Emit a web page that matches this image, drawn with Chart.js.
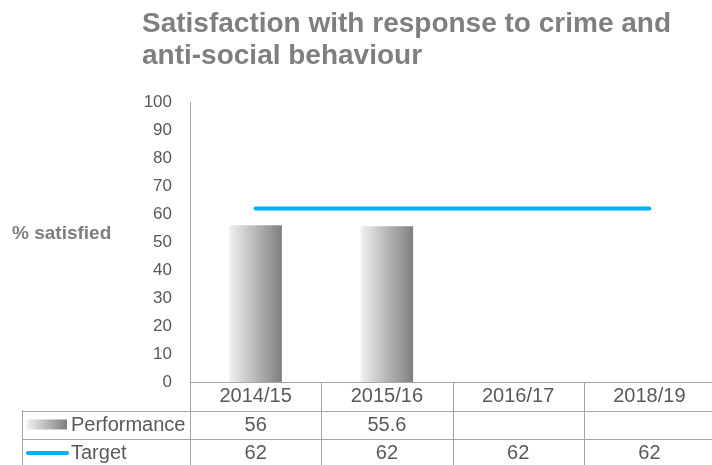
<!DOCTYPE html>
<html>
<head>
<meta charset="utf-8">
<script src="https://cdn.jsdelivr.net/npm/chart.js@4"></script>
<style>
  html, body { margin: 0; padding: 0; background: #fff; overflow: hidden; }
  #wrap { position: relative; width: 715px; height: 465px; }
</style>
</head>
<body>
<div id="wrap"><canvas id="chart"></canvas></div>
<script>
const years = ['2014/15', '2015/16', '2016/17', '2018/19'];
const performance = [56, 55.6, null, null];
const target = [62, 62, 62, 62];
const yTicks = [0, 10, 20, 30, 40, 50, 60, 70, 80, 90, 100];

const titleLines = ['Satisfaction with response to crime and', 'anti-social behaviour'];
const yLabel = '% satisfied';

const GREY_TEXT = '#595959';
const GREY_TITLE = '#7f7f7f';
const GRID = '#a6a6a6';
const BLUE = '#00b0f0';
const FONT = '"Liberation Sans", Arial, sans-serif';

// silver bar fill, light on the left going darker to the right
function barFill(ctx, x0, x1) {
  let g = ctx.createLinearGradient(x0, 0, x1, 0);
  g.addColorStop(0, '#f0f0f0');
  g.addColorStop(1, '#7f7f7f');
  return g;
}

// title, side label and the data table under the plot
const tablePlugin = {
  id: 'dataTable',
  afterDraw(chart) {
    const ctx = chart.ctx;
    const x = chart.scales.x;
    const area = chart.chartArea;
    const W = chart.width, H = chart.height;
    const top = area.bottom;
    const row1 = top + 28.5, row2 = top + 57;
    const leftEdge = 22;

    ctx.save();
    ctx.fillStyle = GREY_TITLE;
    ctx.font = 'bold 28px ' + FONT;
    ctx.textAlign = 'left';
    ctx.textBaseline = 'alphabetic';
    ctx.fillText(titleLines[0], 142, 32);
    ctx.fillText(titleLines[1], 142, 64);

    ctx.font = 'bold 19px ' + FONT;
    ctx.textBaseline = 'middle';
    ctx.fillText(yLabel, 12, 234);

    // grid lines of the table
    ctx.strokeStyle = GRID;
    ctx.lineWidth = 1;
    ctx.beginPath();
    ctx.moveTo(area.left, top + 0.5); ctx.lineTo(W, top + 0.5);
    ctx.moveTo(leftEdge, Math.round(row1) + 0.5); ctx.lineTo(W, Math.round(row1) + 0.5);
    ctx.moveTo(leftEdge, Math.round(row2) + 0.5); ctx.lineTo(W, Math.round(row2) + 0.5);
    ctx.moveTo(leftEdge + 0.5, row1); ctx.lineTo(leftEdge + 0.5, H);
    ctx.moveTo(area.left + 0.5, top); ctx.lineTo(area.left + 0.5, H);
    for (let i = 1; i < years.length; i++) {
      let px = Math.round((x.getPixelForValue(i - 1) + x.getPixelForValue(i)) / 2) + 0.5;
      ctx.moveTo(px, top); ctx.lineTo(px, H);
    }
    ctx.stroke();

    // cell text
    ctx.fillStyle = GREY_TEXT;
    ctx.font = '20px ' + FONT;
    ctx.textAlign = 'center';
    years.forEach(function (yr, i) {
      let cx = x.getPixelForValue(i);
      ctx.fillText(yr, cx, top + 14.5);
      if (performance[i] != null) ctx.fillText(String(performance[i]), cx, row1 + 14.5);
      if (target[i] != null) ctx.fillText(String(target[i]), cx, row2 + 14.5);
    });

    // row headers with their legend keys
    ctx.textAlign = 'left';
    ctx.fillText('Performance', 71, row1 + 14.5);
    ctx.fillText('Target', 71, row2 + 14.5);

    ctx.fillStyle = barFill(ctx, 27, 67);
    ctx.fillRect(27, row1 + 9, 40, 10);

    ctx.strokeStyle = BLUE;
    ctx.lineWidth = 4;
    ctx.lineCap = 'round';
    ctx.beginPath();
    ctx.moveTo(28, row2 + 14);
    ctx.lineTo(67, row2 + 14);
    ctx.stroke();
    ctx.restore();
  }
};

new Chart(document.getElementById('chart'), {
  type: 'bar',
  data: {
    labels: years,
    datasets: [
      {
        type: 'line',
        label: 'Target',
        data: target,
        borderColor: BLUE,
        borderWidth: 4,
        borderCapStyle: 'round',
        pointRadius: 0,
        fill: false,
        order: 0
      },
      {
        label: 'Performance',
        data: performance,
        barPercentage: 0.4,
        categoryPercentage: 1,
        order: 1,
        backgroundColor: function (c) {
          const chart = c.chart;
          const xs = chart.scales.x;
          if (!chart.chartArea || !xs || c.dataIndex == null) return '#b0b0b0';
          const cx = xs.getPixelForValue(c.dataIndex);
          const half = (xs.width / years.length) * 0.4 / 2;
          return barFill(chart.ctx, cx - half, cx + half);
        }
      }
    ]
  },
  options: {
    responsive: true,
    maintainAspectRatio: false,
    animation: false,
    layout: { padding: { top: 102, bottom: 83, left: 0, right: 0 } },
    plugins: {
      legend: { display: false },
      title: { display: false },
      tooltip: { enabled: false }
    },
    scales: {
      x: {
        display: false,
        offset: true
      },
      y: {
        min: 0,
        max: 100,
        afterFit: function (s) { s.width = 190; },
        afterBuildTicks: function (s) { s.ticks = yTicks.map(v => ({ value: v })); },
        grid: { display: false, drawTicks: false },
        border: { display: true, color: GRID, width: 1 },
        ticks: {
          color: GREY_TEXT,
          font: { family: FONT, size: 17 },
          padding: 18
        }
      }
    }
  },
  plugins: [tablePlugin]
});
</script>
</body>
</html>
